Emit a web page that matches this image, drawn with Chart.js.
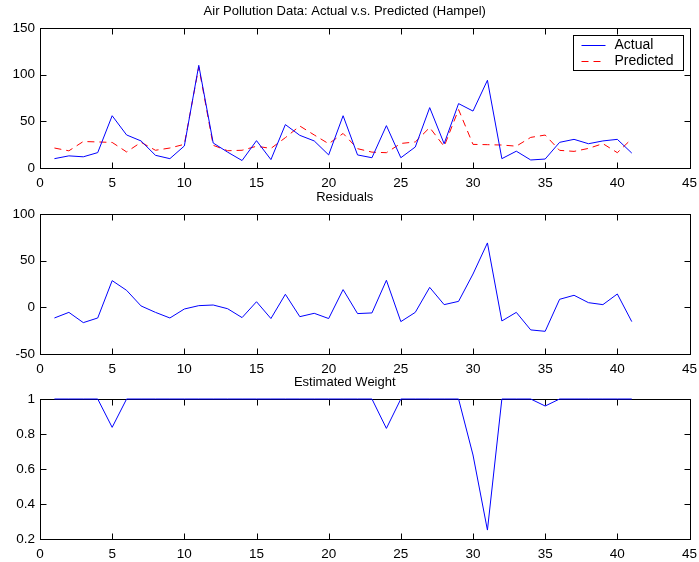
<!DOCTYPE html>
<html>
<head>
<meta charset="utf-8">
<script src="https://cdn.jsdelivr.net/npm/chart.js@4/dist/chart.umd.min.js"></script>
<style>
  html, body { margin: 0; padding: 0; background: #fff; }
  #wrap { position: relative; width: 699px; height: 562px; overflow: hidden; }
  canvas { position: absolute; left: 0; }
</style>
</head>
<body>
<div id="wrap">
  <canvas id="c1" width="699" height="191" style="top:0px"></canvas>
  <canvas id="c2" width="699" height="191" style="top:186px"></canvas>
  <canvas id="c3" width="699" height="191" style="top:371px"></canvas>
</div>
<script>
// Observation index (1..41)
const obs = [1,2,3,4,5,6,7,8,9,10,11,12,13,14,15,16,17,18,19,20,
             21,22,23,24,25,26,27,28,29,30,31,32,33,34,35,36,37,38,39,40,41];

// Measured pollution level
const actual = [10,13,12,16.5,56,35.4,29,13.6,10,23.6,110,26.8,17,8,29.3,9,46.5,35,29,14,
                56,14,11,45.4,11,22.5,64.7,26,69,61,94,10,18,8.6,9.6,27.5,30.7,26,29,30.7,16];

// Fitted values from the Hampel robust regression
const predicted = [21.4,18.4,28.4,27.9,27.4,17.2,27.5,19,21.4,25.4,108.2,24.3,18.5,19,23.3,21,32.5,45,35.4,26,
                   37,20.7,17,16.4,26.3,27.9,43.3,23.1,62.6,25.3,25,24.6,23.4,32.8,35.3,18.9,17.8,21,26.1,16.4,31.3];

// Residuals of the fit
const residuals = [-11.4,-5.4,-16.4,-11.4,28.6,18.2,1.5,-5.4,-11.4,-1.8,1.8,2.5,-1.5,-11,6,-12,14,-10,-6.4,-12,
                   19,-6.7,-6,29,-15.3,-5.4,21.4,2.9,6.4,35.7,69,-14.6,-5.4,-24.2,-25.7,8.6,12.9,5,2.9,14.3,-15.3];

// Estimated robust weights
const weights = [1,1,1,1,0.838,1,1,1,1,1,1,1,1,1,1,1,1,1,1,1,
                 1,1,1,0.832,1,1,1,1,1,0.68,0.251,1,1,1,0.96,1,1,1,1,1,1];

// Axis tick values
const xTicks = [0,5,10,15,20,25,30,35,40,45];
const topTicks = [0,50,100,150];
const midTicks = [-50,0,50,100];
const botTicks = [0.2,0.4,0.6,0.8,1];

const FONT = '"Liberation Sans", Arial, Helvetica, sans-serif';

function pts(ys) { return obs.map((x, i) => ({ x: x, y: ys[i] })); }

// Boxed axes with inward tick marks on all four sides
const framePlugin = {
  id: 'frame',
  beforeDatasetsDraw(chart) {
    const ctx = chart.ctx;
    const a = chart.chartArea;
    const L = Math.round(a.left) + 0.5, R = Math.round(a.right) + 0.5;
    const T = Math.round(a.top) + 0.5, B = Math.round(a.bottom) + 0.5;
    ctx.save();
    ctx.strokeStyle = '#000';
    ctx.lineWidth = 1;
    ctx.strokeRect(L, T, R - L, B - T);
    const len = 6;
    ctx.beginPath();
    const xs = chart.scales.x;
    xs.ticks.forEach(t => {
      const p = Math.round(xs.getPixelForValue(t.value)) + 0.5;
      ctx.moveTo(p, B); ctx.lineTo(p, B - len);
      ctx.moveTo(p, T); ctx.lineTo(p, T + len);
    });
    const ys = chart.scales.y;
    ys.ticks.forEach(t => {
      const p = Math.round(ys.getPixelForValue(t.value)) + 0.5;
      ctx.moveTo(L, p); ctx.lineTo(L + len, p);
      ctx.moveTo(R, p); ctx.lineTo(R - len, p);
    });
    ctx.stroke();
    ctx.restore();
  }
};

// Boxed legend in the upper right of the top axes
const boxLegendPlugin = {
  id: 'boxLegend',
  afterDraw(chart, args, opts) {
    if (!opts || !opts.show) return;
    const ctx = chart.ctx;
    const a = chart.chartArea;
    const w = 110, h = 35;
    const x0 = Math.round(a.right) - 117 + 0.5, y0 = Math.round(a.top) + 7 + 0.5;
    ctx.save();
    ctx.fillStyle = '#fff';
    ctx.fillRect(x0, y0, w, h);
    ctx.strokeStyle = '#000';
    ctx.lineWidth = 1;
    ctx.strokeRect(x0, y0, w, h);
    ctx.font = '14px ' + FONT;
    ctx.textBaseline = 'middle';
    ctx.textAlign = 'left';
    chart.data.datasets.forEach((ds, i) => {
      const yy = Math.round(y0 + 9.5 + i * 16) + 0.5;
      ctx.beginPath();
      ctx.strokeStyle = ds.borderColor;
      ctx.lineWidth = ds.borderWidth;
      ctx.setLineDash(ds.borderDash || []);
      ctx.moveTo(x0 + 8, yy);
      ctx.lineTo(x0 + 32, yy);
      ctx.stroke();
      ctx.setLineDash([]);
      ctx.fillStyle = '#000';
      ctx.fillText(ds.label, x0 + 41, yy);
    });
    ctx.restore();
  }
};

function makeChart(id, title, datasets, yMin, yMax, yTicks, showLegend) {
  const canvas = document.getElementById(id);
  const H = canvas.height;
  return new Chart(canvas, {
    type: 'line',
    data: { datasets: datasets },
    plugins: [framePlugin, boxLegendPlugin],
    options: {
      responsive: false,
      animation: false,
      devicePixelRatio: 1,
      layout: { padding: { left: 0, right: 9.5, top: 0, bottom: 0 } },
      elements: { point: { radius: 0 }, line: { tension: 0 } },
      plugins: {
        legend: { display: false },
        tooltip: { enabled: false },
        title: {
          display: true,
          text: title,
          color: '#000',
          font: { family: FONT, size: 13, weight: 'normal', lineHeight: 1.2 },
          padding: { top: 4, bottom: 8.4 }
        },
        boxLegend: { show: showLegend }
      },
      scales: {
        x: {
          type: 'linear',
          min: xTicks[0], max: xTicks[xTicks.length - 1],
          grid: { display: false, drawTicks: false },
          border: { display: false },
          afterBuildTicks(scale) { scale.ticks = xTicks.map(v => ({ value: v })); },
          afterFit(scale) { scale.height = H - 168; scale.paddingLeft = 0; scale.paddingRight = 0; },
          ticks: { color: '#000', padding: 7, maxRotation: 0, autoSkip: false,
                   font: { family: FONT, size: 13.5 } }
        },
        y: {
          type: 'linear',
          min: yMin, max: yMax,
          grid: { display: false, drawTicks: false },
          border: { display: false },
          afterBuildTicks(scale) { scale.ticks = yTicks.map(v => ({ value: v })); },
          afterFit(scale) { scale.width = 40; scale.paddingTop = 0; scale.paddingBottom = 0; },
          ticks: { color: '#000', padding: 5, autoSkip: false,
                   font: { family: FONT, size: 13.5 },
                   callback: v => String(+v.toFixed(3)) }
        }
      }
    }
  });
}

const blue = '#0000ff', red = '#ff0000';

makeChart('c1', 'Air Pollution Data: Actual v.s. Predicted (Hampel)', [
  { label: 'Actual', data: pts(actual), borderColor: blue, borderWidth: 1, fill: false, clip: 4 },
  { label: 'Predicted', data: pts(predicted), borderColor: red, borderWidth: 1, borderDash: [7, 5], fill: false, clip: 4 }
], 0, 150, topTicks, true);

makeChart('c2', 'Residuals', [
  { label: 'Residuals', data: pts(residuals), borderColor: blue, borderWidth: 1, fill: false, clip: 4 }
], -50, 100, midTicks, false);

makeChart('c3', 'Estimated Weight', [
  { label: 'Weight', data: pts(weights), borderColor: blue, borderWidth: 1, fill: false, clip: 4 }
], 0.2, 1, botTicks, false);
</script>
</body>
</html>
